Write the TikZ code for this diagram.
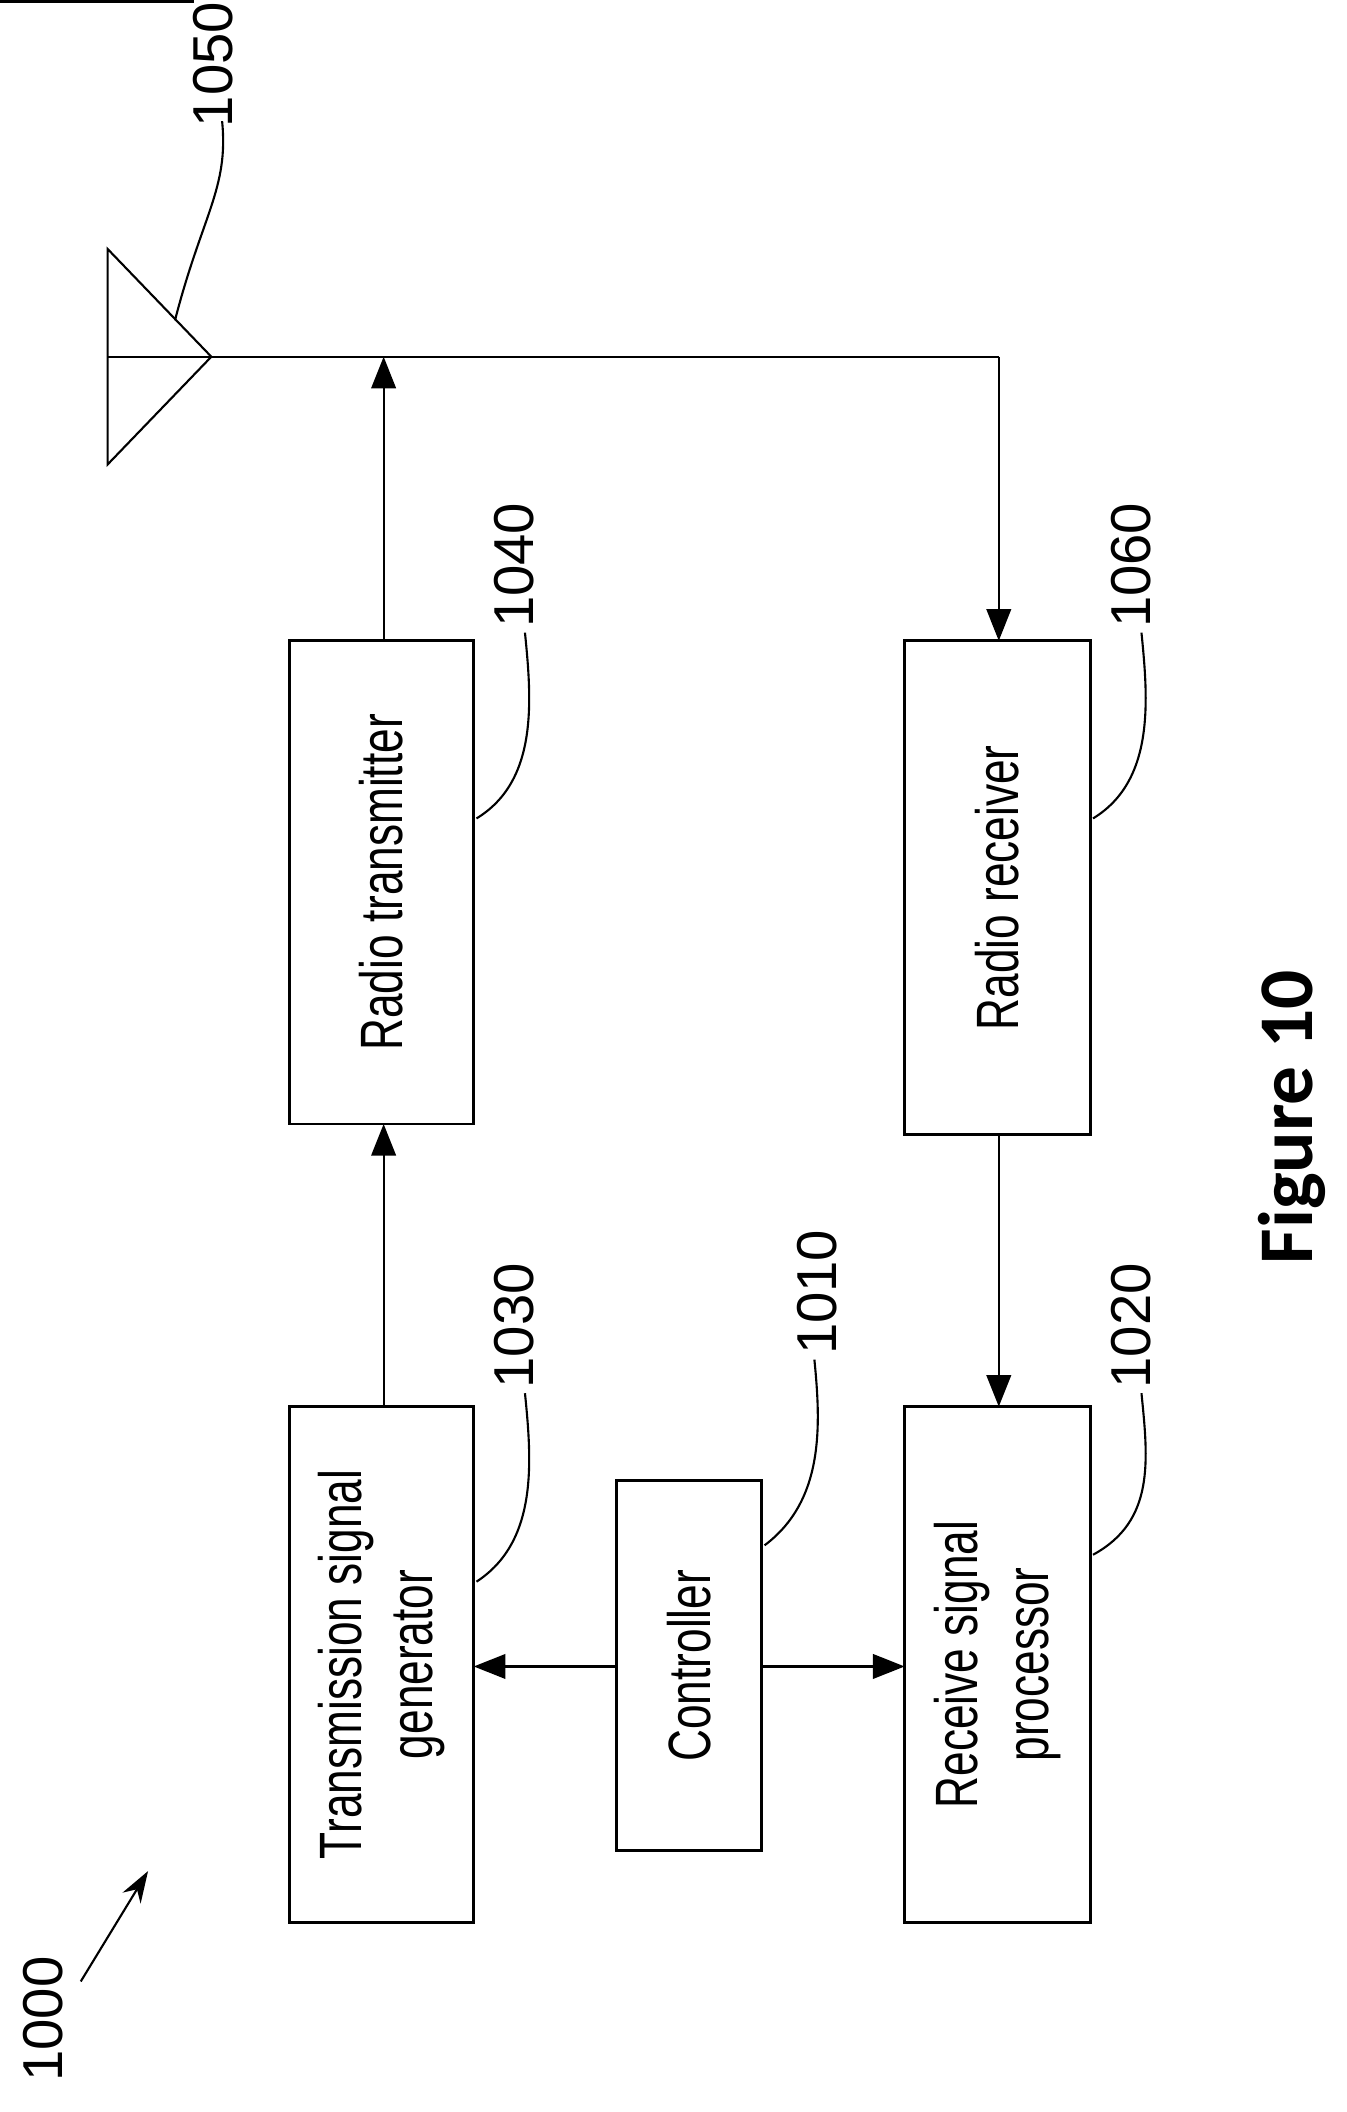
\documentclass[tikz,border=0pt]{standalone}
\usepackage{fontspec}
\setmainfont{Liberation Sans}
\newfontfamily\narrow[FakeStretch=0.74]{Liberation Sans}
\newfontfamily\figfont{Carlito}
\usetikzlibrary{arrows.meta}
\tikzset{
  blk/.style={draw,line width=0.8pt,inner sep=0pt},
  boxtext/.style={rotate=90,align=center,font=\narrow\fontsize{17}{20}\selectfont},
  ref/.style={rotate=90,font=\fontsize{16}{18}\selectfont},
  conn/.style={line width=0.6pt,-{Triangle[length=9pt,width=7pt]}},
  lead/.style={line width=0.6pt}
}
\begin{document}
\begin{tikzpicture}[x=0.01346cm,y=-0.01346cm]
\useasboundingbox (0,0) rectangle (1000,1569);

% Blocks
\node[blk,minimum width=137\pgflinewidth] at (0,0) {};
\draw[blk] (215,1045) rectangle (352,1428);
\node[boxtext] (tsg) at (283.5,1236.5) {Transmission signal\\generator};
\draw[blk] (458,1100) rectangle (566,1375);
\node[boxtext] (ctrl) at (512,1237.5) {Controller};
\draw[blk] (672,1045) rectangle (810,1428);
\node[boxtext] (rsp) at (741,1236.5) {Receive signal\\processor};
\draw[blk] (215,476) rectangle (352,835);
\node[boxtext] (tx) at (283.5,655.5) {Radio transmitter};
\draw[blk] (672,476) rectangle (810,843);
\node[boxtext] (rx) at (741,659.5) {Radio receiver};

% Antenna
\coordinate (ant) at (157,265);
\draw[lead] (80,185) -- (80,345) -- (ant) -- cycle;
\draw[lead] (80,265) -- (ant);
\coordinate (corner) at (742,265);
\coordinate (txtop) at (285,265);

% Connectors
\draw[conn] (285,1045) -- (285,835);
\draw[conn] (285,476) -- (txtop);
\draw[line width=0.6pt] (ant) -- (corner);
\draw[conn] (corner) -- (742,476);
\draw[conn] (742,843) -- (742,1045);
\draw[conn] (458,1238) -- (352,1238);
\draw[conn] (566,1238) -- (672,1238);

% Reference numerals
\node[ref] (n1050) at (158,48) {1050};
\draw[lead] (130,238) .. controls (150,160) and (170,140) .. (165,90);
\node[ref] (n1040) at (382,420) {1040};
\draw[lead] (354,608) .. controls (400,580) and (395,520) .. (390,470);
\node[ref] (n1060) at (840,420) {1060};
\draw[lead] (812,608) .. controls (858,580) and (853,520) .. (848,470);
\node[ref] (n1030) at (382,985) {1030};
\draw[lead] (354,1175) .. controls (400,1145) and (395,1085) .. (390,1035);
\node[ref] (n1010) at (607,960) {1010};
\draw[lead] (568,1148) .. controls (612,1115) and (610,1060) .. (605,1010);
\node[ref] (n1020) at (840,985) {1020};
\draw[lead] (812,1155) .. controls (858,1130) and (853,1085) .. (848,1035);
\node[ref] (n1000) at (32,1500) {1000};
\draw[conn,-{Stealth[length=9pt,width=6pt]}] (60,1472) -- (110,1390);

% Caption
\node[rotate=90,font=\figfont\bfseries\fontsize{22}{26}\selectfont] (cap) at (960,830) {Figure 10};
\end{tikzpicture}
\end{document}
